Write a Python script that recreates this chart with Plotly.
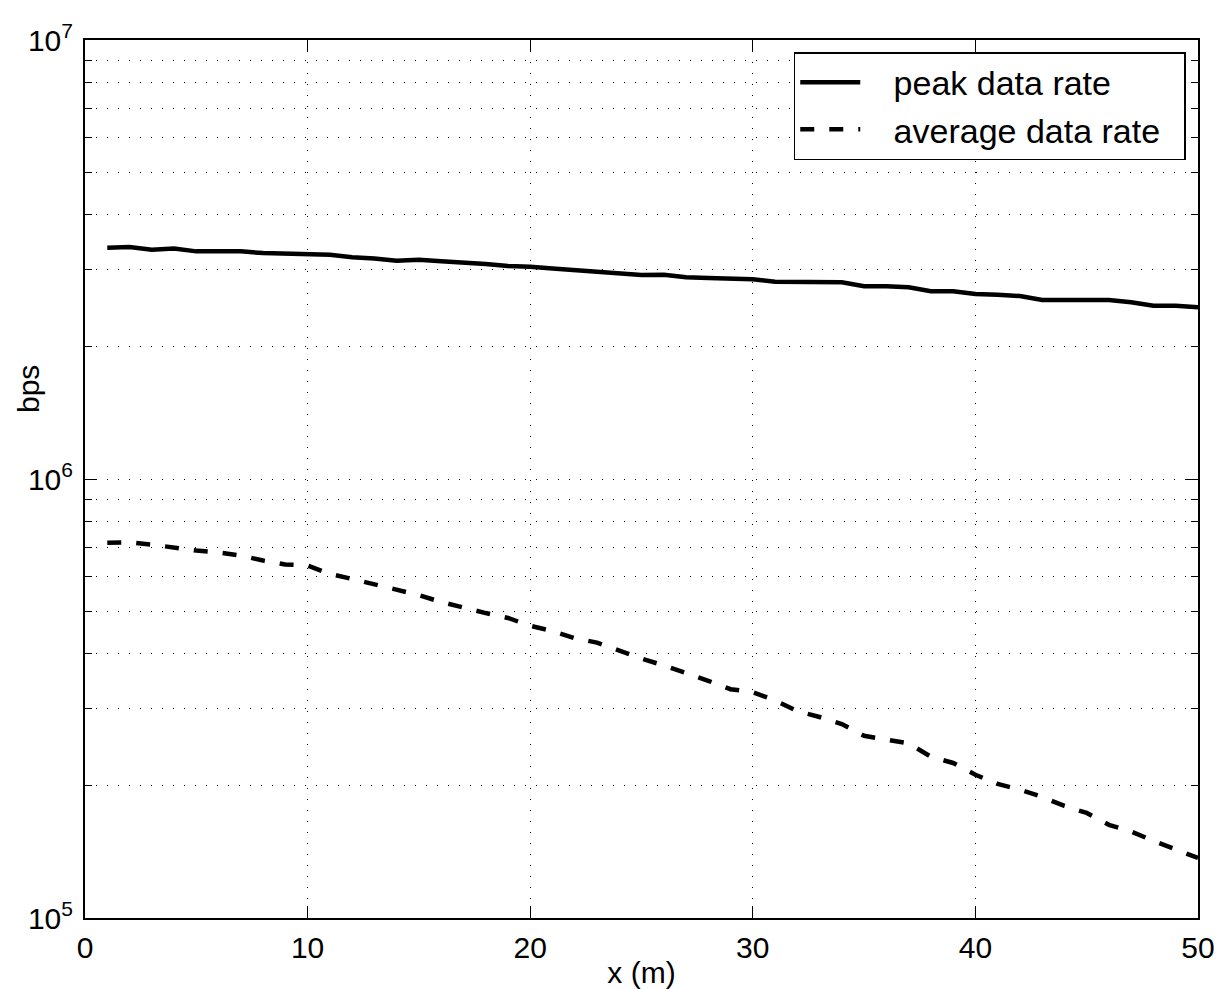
import plotly.graph_objects as go

x_m = list(range(1, 51))

peak_rate = [
    3.365e6, 3.375e6, 3.33e6, 3.35e6, 3.30e6, 3.30e6, 3.30e6, 3.27e6, 3.26e6, 3.26e6,
    3.24e6, 3.20e6, 3.18e6, 3.14e6, 3.16e6, 3.135e6, 3.12e6, 3.09e6, 3.055e6, 3.045e6,
    3.015e6, 2.99e6, 2.97e6, 2.94e6, 2.915e6, 2.92e6, 2.88e6, 2.87e6, 2.855e6, 2.85e6,
    2.814e6, 2.814e6, 2.81e6, 2.805e6, 2.748e6, 2.75e6, 2.734e6, 2.676e6, 2.676e6, 2.638e6,
    2.63e6, 2.61e6, 2.556e6, 2.55e6, 2.556e6, 2.556e6, 2.526e6, 2.481e6, 2.481e6, 2.46e6,
]

average_rate = [
    7.16e5, 7.175e5, 7.09e5, 6.96e5, 6.87e5, 6.80e5, 6.69e5, 6.52e5, 6.39e5, 6.35e5,
    6.08e5, 5.92e5, 5.765e5, 5.59e5, 5.44e5, 5.245e5, 5.085e5, 4.95e5, 4.825e5, 4.63e5,
    4.505e5, 4.34e5, 4.24e5, 4.06e5, 3.90e5, 3.76e5, 3.615e5, 3.47e5, 3.32e5, 3.27e5,
    3.13e5, 2.96e5, 2.87e5, 2.765e5, 2.60e5, 2.545e5, 2.50e5, 2.33e5, 2.255e5, 2.12e5,
    2.02e5, 1.96e5, 1.887e5, 1.80e5, 1.735e5, 1.63e5, 1.574e5, 1.498e5, 1.436e5, 1.37e5,
]

series_names = ["peak data rate", "average data rate"]

x_ticks = [0, 10, 20, 30, 40, 50]
y_ticks = [1e5, 1e6, 1e7]
y_ticktext = ["10<sup>5</sup>", "10<sup>6</sup>", "10<sup>7</sup>"]
y_minor = [k * 10 ** e for e in (5, 6) for k in range(2, 10)]

FONT = "Liberation Sans, Arial, Helvetica, sans-serif"
GRID_DASH = "1px,10px"
PAD_L = "\u00a0" * 3
PAD_R = "\u00a0" * 2

fig = go.Figure()
fig.add_trace(go.Scatter(
    x=x_m, y=peak_rate, mode="lines", name=PAD_L + series_names[0] + PAD_R,
    line=dict(color="black", width=4.5),
))
fig.add_trace(go.Scatter(
    x=x_m, y=average_rate, mode="lines", name=PAD_L + series_names[1] + PAD_R,
    line=dict(color="black", width=4.5, dash="14px,15px"),
))

fig.update_layout(
    width=1220, height=989,
    margin=dict(l=85, r=22, t=40, b=71, autoexpand=False),
    paper_bgcolor="white", plot_bgcolor="white",
    font=dict(family=FONT, size=30, color="black"),
    showlegend=True,
    legend=dict(
        x=0.989, y=0.9863, xanchor="right", yanchor="top",
        bgcolor="white", bordercolor="black", borderwidth=1.5,
        font=dict(size=34, family=FONT),
        itemwidth=60,
        tracegroupgap=0,
    ),
    xaxis=dict(
        range=[0, 50], tickmode="array", tickvals=x_ticks,
        ticks="inside", ticklen=12, tickwidth=1, tickcolor="black",
        showline=True, linecolor="black", linewidth=2, mirror="ticks",
        showgrid=True, gridcolor="black", gridwidth=1, griddash=GRID_DASH,
        zeroline=False, automargin=False,
        tickfont=dict(size=30, family=FONT),
        ticklabelstandoff=2,
        title=dict(text="x (m)", font=dict(size=30, family=FONT), standoff=0),
    ),
    yaxis=dict(
        type="log", range=[5, 7], tickmode="array", tickvals=y_ticks, ticktext=y_ticktext,
        ticks="inside", ticklen=12, tickwidth=1, tickcolor="black",
        showline=True, linecolor="black", linewidth=2, mirror="ticks",
        showgrid=True, gridcolor="black", gridwidth=1, griddash=GRID_DASH,
        zeroline=False, automargin=False,
        tickfont=dict(size=30, family=FONT),
        ticklabelstandoff=4,
        minor=dict(
            tickmode="array", tickvals=y_minor, ticks="inside", ticklen=7,
            tickcolor="black", tickwidth=1,
            showgrid=True, gridcolor="black", gridwidth=1, griddash=GRID_DASH,
        ),
    ),
    annotations=[dict(
        text="bps", textangle=-90, showarrow=False,
        xref="paper", yref="paper", x=-0.0512, y=0.6025,
        xanchor="center", yanchor="middle",
        font=dict(size=30, family=FONT, color="black"),
    )],
)

fig.write_html("out.html")
